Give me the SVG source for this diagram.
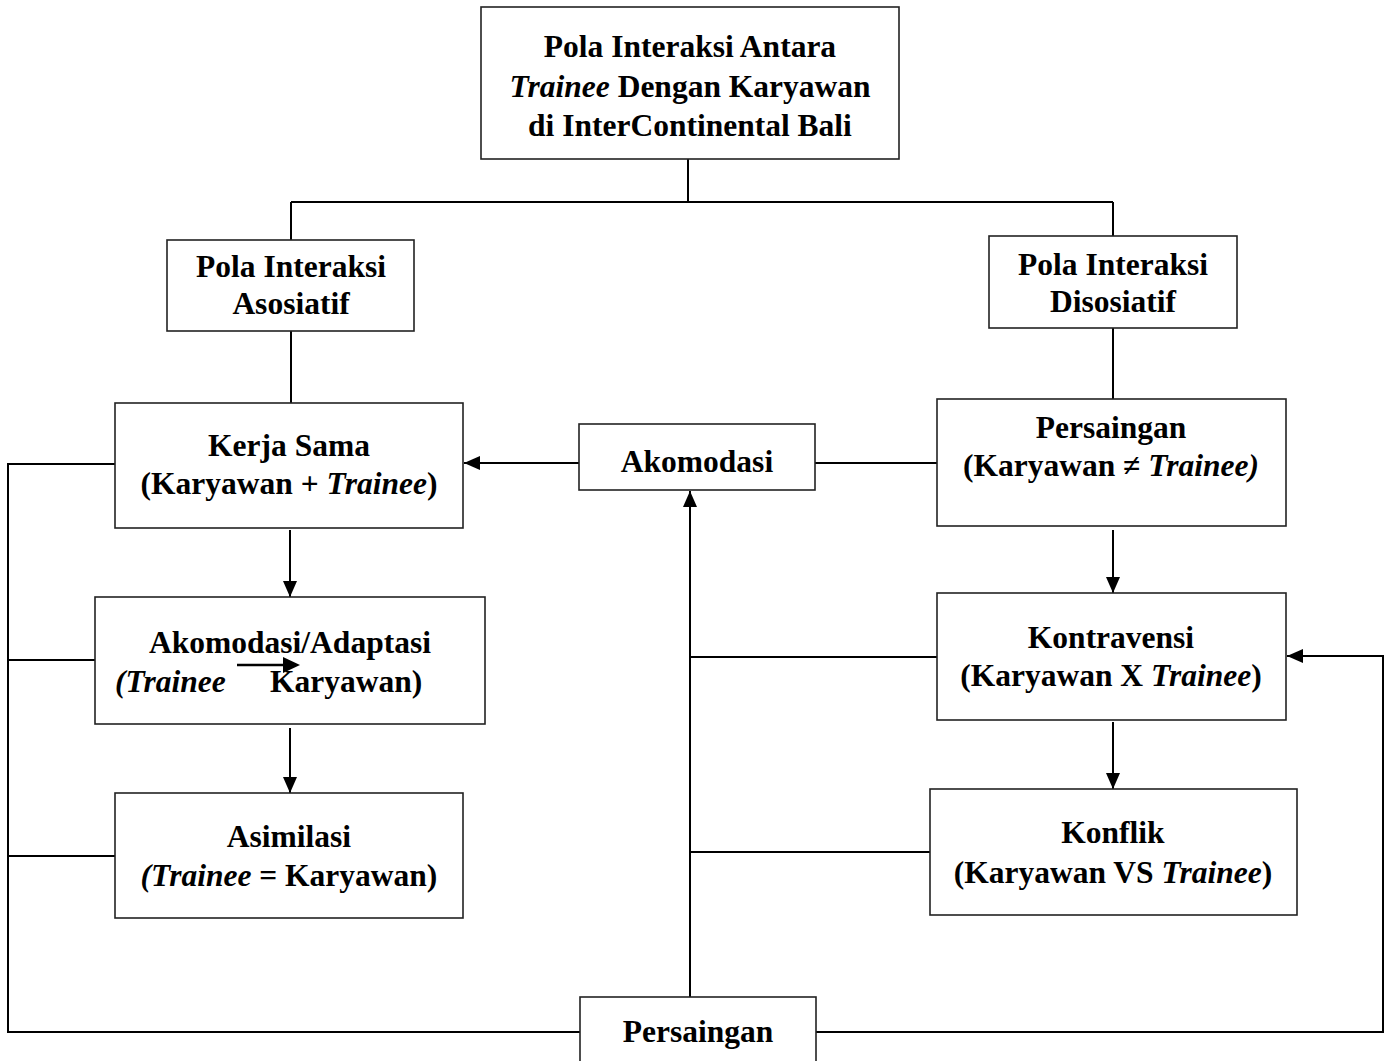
<svg xmlns="http://www.w3.org/2000/svg" width="1387" height="1061" viewBox="0 0 1387 1061">
<style>
.box{fill:#fff;stroke:#222;stroke-width:1.6}
.t{font-family:"Liberation Serif","Times New Roman",serif;font-weight:bold;font-size:31.5px;fill:#000;text-anchor:middle}
.i{font-style:italic}
.c{fill:none;stroke:#000;stroke-width:2}
</style>
<defs>
<marker id="ah" viewBox="0 0 16 14" refX="16" refY="7" markerWidth="16" markerHeight="14" markerUnits="userSpaceOnUse" orient="auto">
<path d="M0,0 L16,7 L0,14 Z" fill="#000"/>
</marker>
</defs>
<rect width="1387" height="1061" fill="#fff"/>
<g id="connectors">
<path class="c" d="M688,159 V202 M291,202 H1113 M291,202 V240 M1113,202 V236 M291,331 V403 M1113,328 V399"/>
<path class="c" d="M579,463 H464" marker-end="url(#ah)"/>
<path class="c" d="M815,463 H937"/>
<path class="c" d="M290,530 V597" marker-end="url(#ah)"/>
<path class="c" d="M290,728 V793" marker-end="url(#ah)"/>
<path class="c" d="M1113,530 V593" marker-end="url(#ah)"/>
<path class="c" d="M1113,722 V789" marker-end="url(#ah)"/>
<path class="c" d="M690,997 V491" marker-end="url(#ah)"/>
<path class="c" d="M690,657 H937 M690,852 H930"/>
<path class="c" d="M816,1032 H1383 V656 H1287" marker-end="url(#ah)"/>
<path class="c" d="M580,1032 H8 V464 H115 M8,660 H95 M8,856 H115"/>
</g>
<g id="n-root">
<rect class="box" x="481" y="7" width="418" height="152"/>
<text class="t" x="690" y="57">Pola Interaksi Antara</text>
<text class="t" x="690" y="97"><tspan class="i">Trainee</tspan> Dengan Karyawan</text>
<text class="t" x="690" y="136">di InterContinental Bali</text>
</g>
<g id="n-asosiatif">
<rect class="box" x="167" y="240" width="247" height="91"/>
<text class="t" x="291" y="277">Pola Interaksi</text>
<text class="t" x="291" y="314">Asosiatif</text>
</g>
<g id="n-disosiatif">
<rect class="box" x="989" y="236" width="248" height="92"/>
<text class="t" x="1113" y="275">Pola Interaksi</text>
<text class="t" x="1113" y="312">Disosiatif</text>
</g>
<g id="n-kerjasama">
<rect class="box" x="115" y="403" width="348" height="125"/>
<text class="t" x="289" y="456">Kerja Sama</text>
<text class="t" x="289" y="494">(Karyawan + <tspan class="i">Trainee</tspan>)</text>
</g>
<g id="n-akomodasi">
<rect class="box" x="579" y="424" width="236" height="66"/>
<text class="t" x="697" y="472">Akomodasi</text>
</g>
<g id="n-adaptasi">
<rect class="box" x="95" y="597" width="390" height="127"/>
<text class="t" x="290" y="653">Akomodasi/Adaptasi</text>
<text class="t" style="text-anchor:start"><tspan class="i" x="115" y="692">(Trainee</tspan><tspan x="270" y="692">Karyawan)</tspan></text>
<path d="M237,665 H286" stroke="#000" stroke-width="2.5" fill="none"/>
<path d="M283,657 L300,665 L283,673 Z" fill="#000"/>
</g>
<g id="n-asimilasi">
<rect class="box" x="115" y="793" width="348" height="125"/>
<text class="t" x="289" y="847">Asimilasi</text>
<text class="t" x="289" y="886"><tspan class="i">(Trainee</tspan> = Karyawan)</text>
</g>
<g id="n-persaingan">
<rect class="box" x="937" y="399" width="349" height="127"/>
<text class="t" x="1111" y="438">Persaingan</text>
<text class="t" x="1111" y="476">(Karyawan ≠ <tspan class="i">Trainee)</tspan></text>
</g>
<g id="n-kontravensi">
<rect class="box" x="937" y="593" width="349" height="127"/>
<text class="t" x="1111" y="648">Kontravensi</text>
<text class="t" x="1111" y="686">(Karyawan X <tspan class="i">Trainee</tspan>)</text>
</g>
<g id="n-konflik">
<rect class="box" x="930" y="789" width="367" height="126"/>
<text class="t" x="1113" y="843">Konflik</text>
<text class="t" x="1113" y="883">(Karyawan VS <tspan class="i">Trainee</tspan>)</text>
</g>
<g id="n-persaingan-bottom">
<rect class="box" x="580" y="997" width="236" height="80"/>
<text class="t" x="698" y="1042">Persaingan</text>
</g>
</svg>
